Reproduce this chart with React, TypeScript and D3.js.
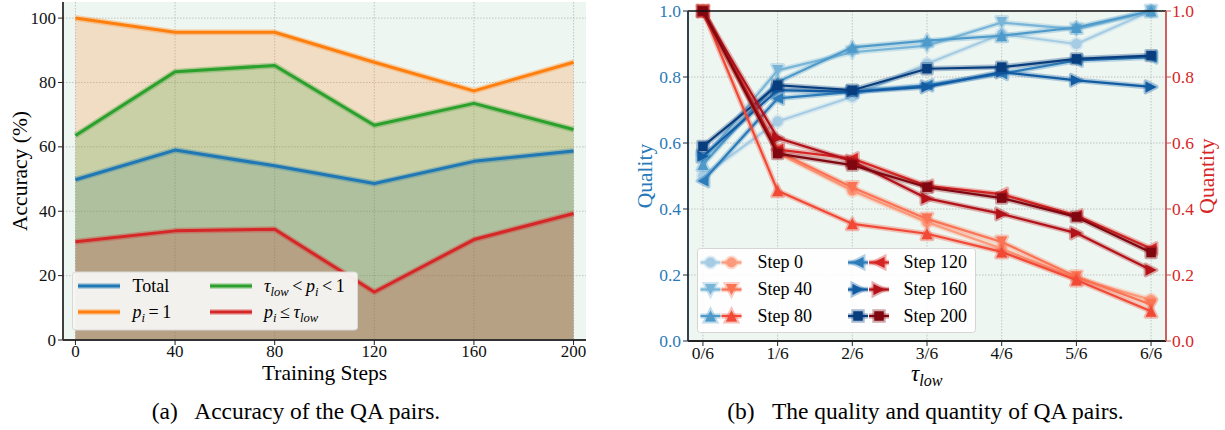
import React, { useEffect, useRef } from 'react';
import * as d3 from 'd3';

// ---- left panel data: accuracy (%) over training steps ----
const trainingSteps = [0, 40, 80, 120, 160, 200];
const totalAcc = [49.8, 59.0, 54.1, 48.6, 55.5, 58.7];
const perfectAcc = [100, 95.6, 95.6, 86.3, 77.4, 86.3];
const midAcc = [63.5, 83.3, 85.3, 66.7, 73.5, 65.4];
const lowAcc = [30.5, 33.9, 34.4, 14.9, 31.2, 39.3];
const accTicks = [0, 20, 40, 60, 80, 100];

// ---- right panel data: quality / quantity over tau_low ----
const tauLabels = ['0/6', '1/6', '2/6', '3/6', '4/6', '5/6', '6/6'];
const stepNames = ['Step 0', 'Step 40', 'Step 80', 'Step 120', 'Step 160', 'Step 200'];
const stepMarkers = ['circle', 'down', 'up', 'left', 'right', 'square'];

const qualityStep0 = [0.50, 0.665, 0.74, 0.84, 0.93, 0.90, 1.0];
const qualityStep40 = [0.55, 0.82, 0.875, 0.895, 0.965, 0.945, 1.0];
const qualityStep80 = [0.535, 0.785, 0.89, 0.91, 0.925, 0.95, 1.0];
const qualityStep120 = [0.485, 0.735, 0.755, 0.775, 0.81, 0.85, 0.86];
const qualityStep160 = [0.56, 0.76, 0.755, 0.77, 0.815, 0.79, 0.77];
const qualityStep200 = [0.59, 0.775, 0.76, 0.825, 0.83, 0.855, 0.865];

const quantityStep0 = [1.0, 0.57, 0.455, 0.36, 0.28, 0.19, 0.125];
const quantityStep40 = [1.0, 0.575, 0.465, 0.37, 0.30, 0.195, 0.11];
const quantityStep80 = [1.0, 0.455, 0.355, 0.325, 0.27, 0.185, 0.09];
const quantityStep120 = [1.0, 0.58, 0.553, 0.47, 0.445, 0.38, 0.28];
const quantityStep160 = [1.0, 0.615, 0.545, 0.432, 0.385, 0.327, 0.215];
const quantityStep200 = [1.0, 0.568, 0.533, 0.466, 0.433, 0.376, 0.268];

const qualityTicks = [0, 0.2, 0.4, 0.6, 0.8, 1.0];

const W = 1225;
const H = 430;
const FONT = "'Liberation Serif', 'Times New Roman', Times, serif";
const BG = '#eef6f1';

type Seg = { t: string; it?: boolean; sub?: boolean };

// writes simple mathtext (italic + subscripts) into a <text>
function mathText(sel: any, segs: Seg[], size: number) {
   let down = false;
   segs.forEach(s => {
      const ts = sel.append('tspan').text(s.t);
      if (s.it) ts.attr('font-style', 'italic');
      if (s.sub) {
         ts.attr('font-size', size * 0.7);
         if (!down) { ts.attr('dy', size * 0.22); down = true; }
      } else if (down) {
         ts.attr('dy', -size * 0.22);
         down = false;
      }
   });
}

// matplotlib-like marker paths
function markerPath(kind: string, r: number) {
   const p = d3.path();
   if (kind === 'circle') {
      p.arc(0, 0, r * 0.9, 0, Math.PI * 2);
   } else if (kind === 'square') {
      const s = r * 0.85;
      p.rect(-s, -s, s * 2, s * 2);
   } else {
      const pts: [number, number][] = {
         up: [[0, -r], [-r, r], [r, r]],
         down: [[0, r], [-r, -r], [r, -r]],
         left: [[-r, 0], [r, -r], [r, r]],
         right: [[r, 0], [-r, -r], [-r, r]],
      }[kind] as [number, number][];
      p.moveTo(pts[0][0], pts[0][1]);
      p.lineTo(pts[1][0], pts[1][1]);
      p.lineTo(pts[2][0], pts[2][1]);
   }
   p.closePath();
   return p.toString();
}

const App: React.FC = () => {
   const svgRef = useRef<SVGSVGElement | null>(null);

   useEffect(() => {
      if (!svgRef.current) return;
      const svg = d3.select(svgRef.current);
      svg.selectAll('*').remove();
      svg.attr('font-family', FONT);

      // ================= LEFT PANEL =================
      const L = { left: 63, right: 586, top: 2, bottom: 340 };
      const xL = d3.scaleLinear().domain([-5, 205]).range([L.left, L.right]);
      const yL = d3.scaleLinear().domain([0, 105]).range([L.bottom, L.top]);
      const gL = svg.append('g');

      gL.append('rect')
         .attr('x', L.left).attr('y', L.top)
         .attr('width', L.right - L.left).attr('height', L.bottom - L.top)
         .attr('fill', BG);

      // grid
      gL.selectAll('.gx').data(trainingSteps).enter().append('line')
         .attr('x1', d => xL(d)).attr('x2', d => xL(d))
         .attr('y1', L.top).attr('y2', L.bottom)
         .attr('stroke', '#b8b8b8').attr('stroke-width', 0.8).attr('stroke-dasharray', '1.5,1.5');
      gL.selectAll('.gy').data(accTicks).enter().append('line')
         .attr('x1', L.left).attr('x2', L.right)
         .attr('y1', d => yL(d)).attr('y2', d => yL(d))
         .attr('stroke', '#b8b8b8').attr('stroke-width', 0.8).attr('stroke-dasharray', '1.5,1.5');

      const accSeries = [
         { values: totalAcc, color: '#1f77b4' },
         { values: perfectAcc, color: '#ff7f0e' },
         { values: midAcc, color: '#2ca02c' },
         { values: lowAcc, color: '#d62728' },
      ];

      const area = d3.area<number>()
         .x((_, i) => xL(trainingSteps[i]))
         .y0(yL(0))
         .y1(d => yL(d));
      const line = d3.line<number>()
         .x((_, i) => xL(trainingSteps[i]))
         .y(d => yL(d));

      accSeries.forEach(s => {
         gL.append('path').attr('d', area(s.values)!)
            .attr('fill', s.color).attr('fill-opacity', 0.2);
      });
      accSeries.forEach(s => {
         gL.append('path').attr('d', line(s.values)!)
            .attr('fill', 'none').attr('stroke', s.color)
            .attr('stroke-width', 6).attr('stroke-opacity', 0.3)
            .attr('stroke-linejoin', 'round');
         gL.append('path').attr('d', line(s.values)!)
            .attr('fill', 'none').attr('stroke', s.color)
            .attr('stroke-width', 3).attr('stroke-linejoin', 'round');
      });

      // spines + ticks
      gL.append('line').attr('x1', L.left).attr('x2', L.left).attr('y1', L.top).attr('y2', L.bottom)
         .attr('stroke', '#111').attr('stroke-width', 1.6);
      gL.append('line').attr('x1', L.left).attr('x2', L.right).attr('y1', L.bottom).attr('y2', L.bottom)
         .attr('stroke', '#333').attr('stroke-width', 1.8);

      gL.selectAll('.ty').data(accTicks).enter().append('line')
         .attr('x1', L.left - 5).attr('x2', L.left)
         .attr('y1', d => yL(d)).attr('y2', d => yL(d))
         .attr('stroke', '#222').attr('stroke-width', 1);
      gL.selectAll('.tyl').data(accTicks).enter().append('text')
         .attr('x', L.left - 7).attr('y', d => yL(d)).attr('dy', '0.33em')
         .attr('text-anchor', 'end').attr('font-size', 17).attr('fill', '#111')
         .text(d => d);
      gL.selectAll('.tx').data(trainingSteps).enter().append('line')
         .attr('x1', d => xL(d)).attr('x2', d => xL(d))
         .attr('y1', L.bottom).attr('y2', L.bottom + 5)
         .attr('stroke', '#222').attr('stroke-width', 1);
      gL.selectAll('.txl').data(trainingSteps).enter().append('text')
         .attr('x', d => xL(d)).attr('y', 357)
         .attr('text-anchor', 'middle').attr('font-size', 17).attr('fill', '#111')
         .text(d => d);

      gL.append('text')
         .attr('transform', `translate(19,${(L.top + L.bottom) / 2}) rotate(-90)`)
         .attr('dy', '0.35em').attr('text-anchor', 'middle').attr('font-size', 21.5)
         .text('Accuracy (%)');
      gL.append('text')
         .attr('x', (L.left + L.right) / 2).attr('y', 380)
         .attr('text-anchor', 'middle').attr('font-size', 21.5)
         .text('Training Steps');

      // legend
      const lg = gL.append('g');
      lg.append('rect').attr('x', 72.5).attr('y', 272).attr('width', 285).attr('height', 58)
         .attr('rx', 3).attr('fill', '#f7f6f2').attr('fill-opacity', 0.95)
         .attr('stroke', '#d8d8d8').attr('stroke-width', 1);
      const legItems: { color: string; col: number; row: number; segs: Seg[] }[] = [
         { color: '#1f77b4', col: 0, row: 0, segs: [{ t: 'Total' }] },
         { color: '#ff7f0e', col: 0, row: 1, segs: [{ t: 'p', it: true }, { t: 'i', it: true, sub: true }, { t: '\u2009=\u20091' }] },
         { color: '#2ca02c', col: 1, row: 0, segs: [{ t: '\u03c4', it: true }, { t: 'low', it: true, sub: true }, { t: '\u2009<\u2009' }, { t: 'p', it: true }, { t: 'i', it: true, sub: true }, { t: '\u2009<\u20091' }] },
         { color: '#d62728', col: 1, row: 1, segs: [{ t: 'p', it: true }, { t: 'i', it: true, sub: true }, { t: '\u2009\u2264\u2009' }, { t: '\u03c4', it: true }, { t: 'low', it: true, sub: true }] },
      ];
      const legX = [78, 210];
      const legTX = [132.5, 264];
      const legY = [286, 312];
      legItems.forEach(it => {
         const x0 = legX[it.col];
         const y0 = legY[it.row];
         lg.append('line').attr('x1', x0).attr('x2', x0 + 42).attr('y1', y0).attr('y2', y0)
            .attr('stroke', it.color).attr('stroke-width', 6).attr('stroke-opacity', 0.3);
         lg.append('line').attr('x1', x0).attr('x2', x0 + 42).attr('y1', y0).attr('y2', y0)
            .attr('stroke', it.color).attr('stroke-width', 3);
         const t = lg.append('text').attr('x', legTX[it.col]).attr('y', y0).attr('dy', '0.32em')
            .attr('font-size', 18);
         mathText(t, it.segs, 18);
      });

      svg.append('text')
         .attr('x', 296).attr('y', 419).attr('text-anchor', 'middle').attr('font-size', 23.5)
         .text('(a)\u2002 Accuracy of the QA pairs.');

      // ================= RIGHT PANEL =================
      const R = { left: 688, right: 1166, top: 11, bottom: 341 };
      const xR = d3.scaleLinear().domain([-0.2, 6.2]).range([R.left, R.right]);
      const yQ = d3.scaleLinear().domain([0, 1]).range([R.bottom, R.top]);
      const yN = d3.scaleLinear().domain([0, 1]).range([R.bottom, R.top]);
      const gR = svg.append('g');

      gR.append('rect')
         .attr('x', R.left).attr('y', R.top)
         .attr('width', R.right - R.left).attr('height', R.bottom - R.top)
         .attr('fill', BG);

      const tauIdx = d3.range(tauLabels.length);
      gR.selectAll('.gx').data(tauIdx).enter().append('line')
         .attr('x1', d => xR(d)).attr('x2', d => xR(d))
         .attr('y1', R.top).attr('y2', R.bottom)
         .attr('stroke', '#b8b8b8').attr('stroke-width', 0.8).attr('stroke-dasharray', '1.5,1.5');
      gR.selectAll('.gy').data(qualityTicks).enter().append('line')
         .attr('x1', R.left).attr('x2', R.right)
         .attr('y1', d => yQ(d)).attr('y2', d => yQ(d))
         .attr('stroke', '#b8b8b8').attr('stroke-width', 0.8).attr('stroke-dasharray', '1.5,1.5');

      const qualitySeries = [qualityStep0, qualityStep40, qualityStep80, qualityStep120, qualityStep160, qualityStep200];
      const quantitySeries = [quantityStep0, quantityStep40, quantityStep80, quantityStep120, quantityStep160, quantityStep200];
      const cmapT = [0.35, 0.47, 0.59, 0.71, 0.83, 0.95];
      const blues = cmapT.map(t => d3.interpolateBlues(t));
      const reds = cmapT.map(t => d3.interpolateReds(t));

      const drawSeries = (vals: number[], color: string, marker: string, y: d3.ScaleLinear<number, number>) => {
         const ln = d3.line<number>().x((_, i) => xR(i)).y(d => y(d));
         const g = gR.append('g');
         g.append('path').attr('d', ln(vals)!).attr('fill', 'none')
            .attr('stroke', color).attr('stroke-width', 5.5).attr('stroke-opacity', 0.3)
            .attr('stroke-linejoin', 'round');
         g.append('path').attr('d', ln(vals)!).attr('fill', 'none')
            .attr('stroke', color).attr('stroke-width', 2.2).attr('stroke-linejoin', 'round');
         g.selectAll('.mh').data(vals).enter().append('path')
            .attr('d', markerPath(marker, 5.5))
            .attr('transform', (d, i) => `translate(${xR(i)},${y(d)})`)
            .attr('fill', color).attr('fill-opacity', 0.35)
            .attr('stroke', color).attr('stroke-opacity', 0.35).attr('stroke-width', 4)
            .attr('stroke-linejoin', 'round');
         g.selectAll('.m').data(vals).enter().append('path')
            .attr('d', markerPath(marker, 5.5))
            .attr('transform', (d, i) => `translate(${xR(i)},${y(d)})`)
            .attr('fill', color);
      };

      qualitySeries.forEach((vals, i) => drawSeries(vals, blues[i], stepMarkers[i], yQ));
      quantitySeries.forEach((vals, i) => drawSeries(vals, reds[i], stepMarkers[i], yN));

      // spines
      gR.append('line').attr('x1', R.left).attr('x2', R.right).attr('y1', R.top).attr('y2', R.top)
         .attr('stroke', '#111').attr('stroke-width', 1.4);
      gR.append('line').attr('x1', R.left).attr('x2', R.right).attr('y1', R.bottom).attr('y2', R.bottom)
         .attr('stroke', '#222').attr('stroke-width', 1.8);
      gR.append('line').attr('x1', R.left).attr('x2', R.left).attr('y1', R.top).attr('y2', R.bottom)
         .attr('stroke', '#1c2b3c').attr('stroke-width', 1.8);
      gR.append('line').attr('x1', R.right).attr('x2', R.right).attr('y1', R.top).attr('y2', R.bottom)
         .attr('stroke', '#c8504f').attr('stroke-width', 1.8);

      const qColor = '#2a7ab9';
      const nColor = '#d62728';
      gR.selectAll('.tq').data(qualityTicks).enter().append('line')
         .attr('x1', R.left - 5).attr('x2', R.left).attr('y1', d => yQ(d)).attr('y2', d => yQ(d))
         .attr('stroke', '#1c2b3c').attr('stroke-width', 1);
      gR.selectAll('.tql').data(qualityTicks).enter().append('text')
         .attr('x', R.left - 7).attr('y', d => yQ(d)).attr('dy', '0.33em')
         .attr('text-anchor', 'end').attr('font-size', 17.5).attr('fill', qColor)
         .text(d => d3.format('.1f')(d));
      gR.selectAll('.tn').data(qualityTicks).enter().append('line')
         .attr('x1', R.right).attr('x2', R.right + 5).attr('y1', d => yN(d)).attr('y2', d => yN(d))
         .attr('stroke', '#c8504f').attr('stroke-width', 1);
      gR.selectAll('.tnl').data(qualityTicks).enter().append('text')
         .attr('x', R.right + 6).attr('y', d => yN(d)).attr('dy', '0.33em')
         .attr('text-anchor', 'start').attr('font-size', 17.5).attr('fill', nColor)
         .text(d => d3.format('.1f')(d));
      gR.selectAll('.tx').data(tauIdx).enter().append('line')
         .attr('x1', d => xR(d)).attr('x2', d => xR(d)).attr('y1', R.bottom).attr('y2', R.bottom + 5)
         .attr('stroke', '#222').attr('stroke-width', 1);
      gR.selectAll('.txl').data(tauIdx).enter().append('text')
         .attr('x', d => xR(d)).attr('y', 359)
         .attr('text-anchor', 'middle').attr('font-size', 17.5).attr('fill', '#111')
         .text(d => tauLabels[d]);

      gR.append('text')
         .attr('transform', `translate(644,${(R.top + R.bottom) / 2}) rotate(-90)`)
         .attr('dy', '0.35em').attr('text-anchor', 'middle').attr('font-size', 21.5)
         .attr('fill', qColor).text('Quality');
      gR.append('text')
         .attr('transform', `translate(1206,${(R.top + R.bottom) / 2}) rotate(-90)`)
         .attr('dy', '0.35em').attr('text-anchor', 'middle').attr('font-size', 21.5)
         .attr('fill', nColor).text('Quantity');
      const tl = gR.append('text').attr('x', (R.left + R.right) / 2 - 16).attr('y', 381)
         .attr('font-size', 23);
      mathText(tl, [{ t: '\u03c4', it: true }, { t: 'low', it: true, sub: true }], 23);

      // legend
      const rg = gR.append('g');
      rg.append('rect').attr('x', 697.5).attr('y', 248.5).attr('width', 278).attr('height', 84)
         .attr('rx', 3).attr('fill', '#ffffff').attr('fill-opacity', 0.85)
         .attr('stroke', '#d5d5d5').attr('stroke-width', 1);
      const colBlue = [710.5, 858];
      const colText = [757.5, 903.5];
      const rowY = [262.5, 289.5, 316];
      stepNames.forEach((name, i) => {
         const col = Math.floor(i / 3);
         const row = i % 3;
         const y0 = rowY[row];
         [blues[i], reds[i]].forEach((c, k) => {
            const cx = colBlue[col] + k * 21;
            rg.append('line').attr('x1', cx - 10).attr('x2', cx + 10).attr('y1', y0).attr('y2', y0)
               .attr('stroke', c).attr('stroke-width', 5.5).attr('stroke-opacity', 0.3);
            rg.append('line').attr('x1', cx - 10).attr('x2', cx + 10).attr('y1', y0).attr('y2', y0)
               .attr('stroke', c).attr('stroke-width', 2.2);
            rg.append('path').attr('d', markerPath(stepMarkers[i], 5.5))
               .attr('transform', `translate(${cx},${y0})`)
               .attr('fill', c).attr('fill-opacity', 0.35)
               .attr('stroke', c).attr('stroke-opacity', 0.35).attr('stroke-width', 4);
            rg.append('path').attr('d', markerPath(stepMarkers[i], 5.5))
               .attr('transform', `translate(${cx},${y0})`).attr('fill', c);
         });
         rg.append('text').attr('x', colText[col]).attr('y', y0).attr('dy', '0.33em')
            .attr('font-size', 18).text(name);
      });

      svg.append('text')
         .attr('x', 925.5).attr('y', 419).attr('text-anchor', 'middle').attr('font-size', 23.5)
         .text('(b)\u2002 The quality and quantity of QA pairs.');
   }, []);

   return (
      <div style={{ position: 'absolute', left: 0, top: 0, width: W, height: H, background: '#fff' }}>
         <svg ref={svgRef} width={W} height={H} viewBox={`0 0 ${W} ${H}`} />
      </div>
   );
};

export default App;
